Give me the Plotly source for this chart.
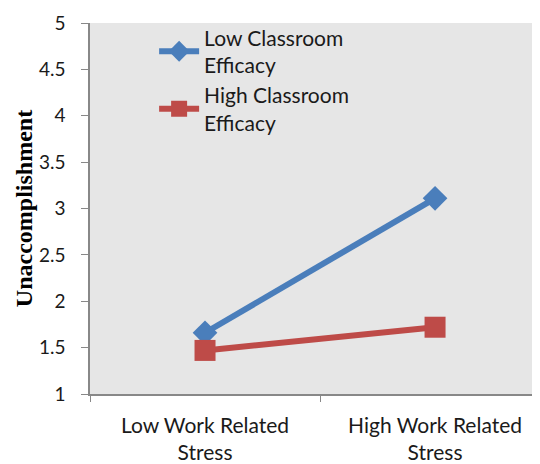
import plotly.graph_objects as go

categories = ["Low Work Related<br>Stress", "High Work Related<br>Stress"]
low_eff = [1.66, 3.11]
high_eff = [1.47, 1.72]
series_names = ["Low Classroom<br>Efficacy", "High Classroom<br>Efficacy"]

fig = go.Figure()
fig.add_trace(go.Scatter(
    x=categories, y=low_eff, name=series_names[0], mode="lines+markers",
    line=dict(color="#4a7ebb", width=6),
    marker=dict(symbol="diamond", size=19, color="#4a7ebb"),
))
fig.add_trace(go.Scatter(
    x=categories, y=high_eff, name=series_names[1], mode="lines+markers",
    line=dict(color="#be4b48", width=6),
    marker=dict(symbol="square", size=21, color="#be4b48"),
))

fig.update_layout(
    width=540, height=464,
    margin=dict(l=82, r=0, t=15, b=78),
    paper_bgcolor="white",
    plot_bgcolor="#e6e6e6",
    font=dict(family="Lato, Open Sans, sans-serif", color="#1a1a1a", size=16),
    showlegend=True,
    legend=dict(
        x=0.14, y=1.015, xanchor="left", yanchor="top",
        bgcolor="rgba(0,0,0,0)", font=dict(size=21, color="#1a1a1a"),
        tracegroupgap=4, itemwidth=40,
    ),
    xaxis=dict(
        type="category", range=[-0.5, 1.491],
        showline=True, linecolor="#888888", linewidth=1.5,
        ticks="outside", tickson="boundaries", ticklen=6, tickcolor="#888888",
        showgrid=False, tickfont=dict(size=21), ticklabelstandoff=12,
    ),
    yaxis=dict(
        range=[1, 5], dtick=0.5, tick0=1,
        showline=True, linecolor="#888888", linewidth=1.5,
        ticks="outside", ticklen=7, tickcolor="#888888",
        showgrid=False, zeroline=False,
        tickfont=dict(size=19), ticklabelstandoff=12,
        title=dict(text="<b>Unaccomplishment</b>",
                   font=dict(family="Liberation Serif, Times New Roman, serif", size=24, color="black"),
                   standoff=0),
    ),
)

fig.write_html("out.html")
